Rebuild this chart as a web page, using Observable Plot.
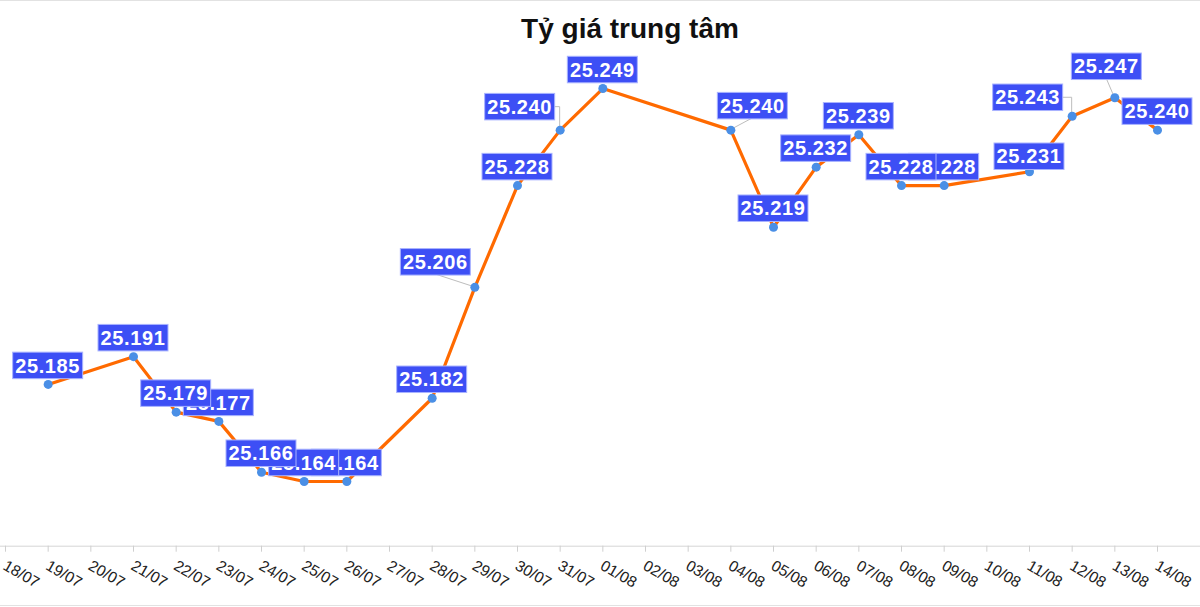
<!DOCTYPE html>
<html>
<head>
<meta charset="utf-8">
<script src="https://cdn.jsdelivr.net/npm/d3@7"></script>
<script src="https://cdn.jsdelivr.net/npm/@observablehq/plot@0.6"></script>
<style>
  html, body { margin: 0; padding: 0; background: #fff; }
  #wrap { position: relative; width: 1200px; height: 607px; overflow: hidden; font-family: "Liberation Sans", Arial, sans-serif; }
  #wrap .bt { position: absolute; left: 0; top: 0; width: 1200px; height: 1px; background: #e2e2e2; }
  #wrap .bb { position: absolute; left: 0; top: 605px; width: 1200px; height: 1px; background: #e2e2e2; }
  #title { position: absolute; left: 630px; top: 15px; transform: translateX(-50%); font-size: 28px; line-height: 28px; font-weight: bold; color: #111; white-space: nowrap; z-index: 2; }
  #chart { position: absolute; left: 0; top: 0; }
</style>
</head>
<body>
<div id="wrap">
  <div class="bt"></div>
  <div class="bb"></div>
  <div id="title">Tỷ giá trung tâm</div>
  <div id="chart"></div>
</div>
<script>
// ---- Data ----
const YEAR = 2025;
const dates = ["19/07","21/07","22/07","23/07","24/07","25/07","26/07","28/07","29/07","30/07","31/07","01/08","04/08","05/08","06/08","07/08","08/08","09/08","11/08","12/08","13/08","14/08"];
const values = [25185,25191,25179,25177,25166,25164,25164,25182,25206,25228,25240,25249,25240,25219,25232,25239,25228,25228,25231,25243,25247,25240];
const tickLabels = ["18/07","19/07","20/07","21/07","22/07","23/07","24/07","25/07","26/07","27/07","28/07","29/07","30/07","31/07","01/08","02/08","03/08","04/08","05/08","06/08","07/08","08/08","09/08","10/08","11/08","12/08","13/08","14/08"];

// ---- Helpers / layout ----
const parse = s => { const [d, m] = s.split("/").map(Number); return new Date(Date.UTC(YEAR, m - 1, d)); };
const fmt = v => d3.format(",")(v).replace(/,/g, ".");
const data = dates.map((d, i) => ({date: parse(d), key: d, value: values[i]}));
const ticks = tickLabels.map(t => ({date: parse(t), text: t}));

// label placement nudges (layout only)
const defaultNudge = [0, -18.5];
const labelNudge = {"29/07": [-39, -25], "31/07": [-40, -23], "04/08": [22, -24], "11/08": [0, -15], "12/08": [-44, -18.5], "13/08": [-8, -31]};
const elbow = new Set(["31/07", "12/08"]);
const BOX_W = 70, BOX_H = 26.5;
const nudge = d => labelNudge[d.key] || defaultNudge;

const leaders = (index, scales) => {
  const g = d3.create("svg:g");
  for (const d of data) {
    if (!labelNudge[d.key] || (labelNudge[d.key][0] === 0)) continue;
    const px = scales.x(d.date), py = scales.y(d.value);
    const [dx, dy] = nudge(d);
    const lx = px + dx, ly = py + dy;
    const pts = elbow.has(d.key) ? [[px, py], [px, ly], [lx, ly]] : [[px, py], [lx, ly + BOX_H / 2 - 1]];
    g.append("path")
      .attr("d", d3.line()(pts))
      .attr("fill", "none")
      .attr("stroke", "#bdbdbd")
      .attr("stroke-width", 1);
  }
  return g.node();
};

const labels = (index, scales) => {
  const g = d3.create("svg:g");
  for (let i = data.length - 1; i >= 0; --i) {
    const d = data[i];
    const px = scales.x(d.date), py = scales.y(d.value);
    const [dx, dy] = nudge(d);
    const cx = px + dx, cy = py + dy;
    g.append("rect")
      .attr("x", cx - BOX_W / 2).attr("y", cy - BOX_H / 2)
      .attr("width", BOX_W).attr("height", BOX_H)
      .attr("fill", "#3d4ff5")
      .attr("stroke", "#a9b3ff")
      .attr("stroke-width", 1);
    g.append("text")
      .attr("x", cx).attr("y", cy)
      .attr("dy", "0.36em")
      .attr("text-anchor", "middle")
      .attr("fill", "#fff")
      .attr("font-size", 20)
      .attr("font-weight", "bold")
      .attr("letter-spacing", "0.6px")
      .attr("font-family", "'Liberation Sans', Arial, sans-serif")
      .text(fmt(d.value));
  }
  return g.node();
};

const plot = Plot.plot({
  width: 1200,
  height: 605,
  marginLeft: 0,
  marginRight: 0,
  marginTop: 60,
  marginBottom: 59.3,
  style: {fontFamily: "'Liberation Sans', Arial, sans-serif", background: "transparent", overflow: "visible"},
  x: {type: "utc", domain: [parse("18/07"), parse("14/08")], range: [5, 1157]},
  y: {domain: [25150, 25255], range: [545.7, 60.3], axis: null},
  marks: [
    Plot.ruleY([25150], {stroke: "#d6d6d6", strokeWidth: 1}),
    Plot.axisX({ticks: ticks.map(t => t.date), tickSize: 6, tickFormat: () => "", stroke: "#cfcfcf", label: null}),
    Plot.text(ticks, {x: "date", text: "text", frameAnchor: "bottom", dy: 13, dx: 2, rotate: 30, textAnchor: "start", lineAnchor: "top", fontSize: 15.5, fill: "#222"}),
    Plot.line(data, {x: "date", y: "value", stroke: "#ff6a00", strokeWidth: 3.2, strokeLinejoin: "round"}),
    leaders,
    Plot.dot(data, {x: "date", y: "value", r: 4.5, fill: "#4a8fe6", stroke: "none"}),
    labels
  ]
});
document.getElementById("chart").appendChild(plot);
</script>
</body>
</html>
